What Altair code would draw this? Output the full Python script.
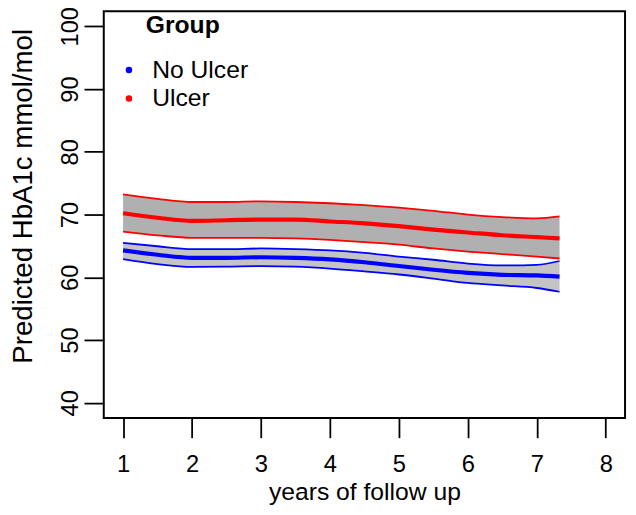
import altair as alt
import pandas as pd

years = [1, 1.5, 2, 2.5, 3, 3.5, 4, 4.5, 5, 5.5, 6, 6.5, 7, 7.33]
groups = ["No Ulcer", "Ulcer"]

no_ulcer_mean = [64.3, 63.6, 63.1, 63.1, 63.2, 63.1, 62.85, 62.4, 61.8, 61.2, 60.7, 60.4, 60.3, 60.1]
no_ulcer_upper = [65.5, 64.95, 64.5, 64.5, 64.6, 64.5, 64.3, 63.9, 63.3, 62.8, 62.2, 61.9, 62.0, 62.6]
no_ulcer_lower = [62.9, 62.1, 61.65, 61.7, 61.8, 61.7, 61.4, 60.95, 60.45, 59.8, 59.1, 58.7, 58.3, 57.7]

ulcer_mean = [70.2, 69.5, 69.0, 69.1, 69.2, 69.2, 68.9, 68.6, 68.15, 67.6, 67.15, 66.7, 66.4, 66.2]
ulcer_upper = [73.2, 72.5, 72.0, 72.0, 72.1, 72.0, 71.8, 71.5, 71.1, 70.6, 70.0, 69.6, 69.4, 69.7]
ulcer_lower = [67.3, 66.7, 66.3, 66.3, 66.3, 66.2, 65.95, 65.6, 65.2, 64.6, 64.1, 63.7, 63.3, 63.0]

x_ticks = [1, 2, 3, 4, 5, 6, 7, 8]
y_ticks = [40, 50, 60, 70, 80, 90, 100]

series = {
    "No Ulcer": (no_ulcer_lower, no_ulcer_mean, no_ulcer_upper),
    "Ulcer": (ulcer_lower, ulcer_mean, ulcer_upper),
}

rows = []
for g in groups:
    lo, mu, up = series[g]
    for i, x in enumerate(years):
        rows.append({"x": x, "group": g, "lower": lo[i], "mean": mu[i], "upper": up[i]})
df = pd.DataFrame(rows)

FONT = "Liberation Sans"

xscale = alt.Scale(domain=[0.72, 8.28], nice=False, zero=False)
yscale = alt.Scale(domain=[37.6, 102.4], nice=False, zero=False)
cscale = alt.Scale(domain=groups, range=["#0000ff", "#ff0000"])

legend = alt.Legend(
    title="Group", orient="none", legendX=13, legendY=2,
    titleFontSize=25, titleFontWeight="bold", titleColor="black", titleFont=FONT,
    titleAnchor="middle", titlePadding=20,
    labelFontSize=25, labelColor="black", labelFont=FONT, labelOffset=11,
    symbolType="circle", symbolSize=10, symbolStrokeWidth=3.5,
    rowPadding=3,
)

xaxis = alt.Axis(
    values=x_ticks, format="d", title="years of follow up", grid=False, domain=False,
    tickSize=20, tickWidth=1.8, tickColor="black",
    labelFontSize=24, labelColor="black", labelPadding=15, labelFont=FONT,
    titleFontSize=25, titleFontWeight="normal", titleColor="black", titleFont=FONT,
    titleBaseline="alphabetic", titleY=83,
)
yaxis = alt.Axis(
    values=y_ticks, format="d", title="Predicted HbA1c mmol/mol", grid=False, domain=False,
    tickSize=20, tickWidth=1.8, tickColor="black",
    labelFontSize=24, labelColor="black", labelPadding=7, labelFont=FONT,
    labelAngle=270, labelAlign="center", labelBaseline="alphabetic",
    titleFontSize=28, titleFontWeight="normal", titleColor="black", titleFont=FONT,
    titleAngle=270, titleAlign="center", titleBaseline="alphabetic",
    titleX=-73, titleY=187,
)

base = alt.Chart(df)

band_nu = base.transform_filter(alt.datum.group == "No Ulcer").mark_area(
    color="#c4c4c4", opacity=1, interpolate="monotone"
).encode(
    x=alt.X("x:Q", scale=xscale, axis=xaxis),
    y=alt.Y("lower:Q", scale=yscale, axis=yaxis),
    y2="upper:Q",
)
band_u = base.transform_filter(alt.datum.group == "Ulcer").mark_area(
    color="#b0b0b0", opacity=1, interpolate="monotone"
).encode(
    x=alt.X("x:Q", scale=xscale),
    y=alt.Y("lower:Q", scale=yscale),
    y2="upper:Q",
)

def line(field, width):
    return base.mark_line(interpolate="monotone", strokeWidth=width).encode(
        x=alt.X("x:Q", scale=xscale),
        y=alt.Y(f"{field}:Q", scale=yscale),
        color=alt.Color("group:N", scale=cscale, legend=legend),
    )

chart = alt.layer(
    band_nu, band_u, line("lower", 1.8), line("upper", 1.8), line("mean", 4.2)
).properties(
    width=528, height=412,
    padding={"left": 97, "top": 0, "right": 3, "bottom": 87},
    autosize="none",
).configure_view(stroke="black", strokeWidth=2)

chart.save("out.html", embed_options={"renderer": "svg", "actions": False})
